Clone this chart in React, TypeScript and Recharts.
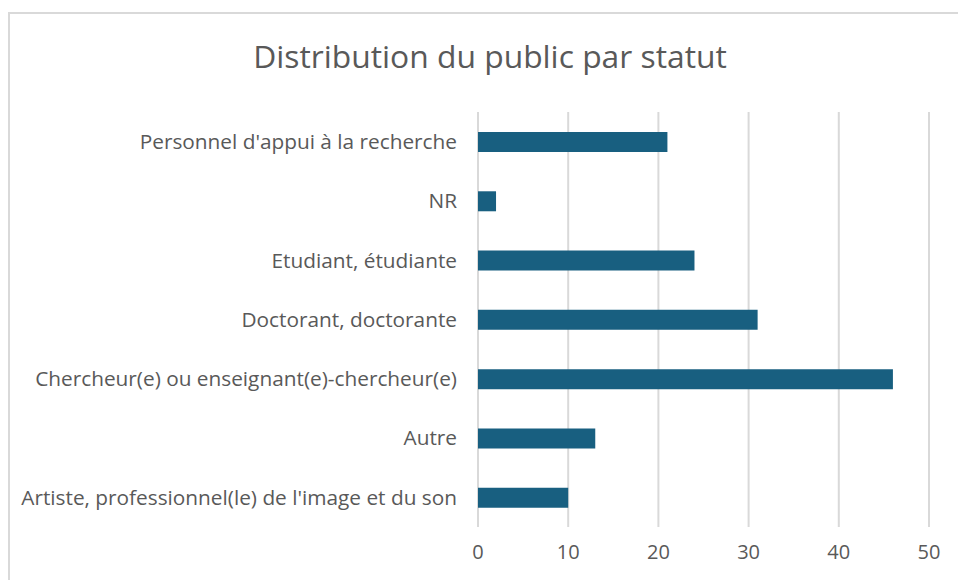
import { BarChart, Bar, XAxis, YAxis, CartesianGrid } from "recharts"

const statuts = [
  "Personnel d'appui à la recherche",
  "NR",
  "Etudiant, étudiante",
  "Doctorant, doctorante",
  "Chercheur(e) ou enseignant(e)-chercheur(e)",
  "Autre",
  "Artiste, professionnel(le) de l'image et du son",
]

const effectifs = [21, 2, 24, 31, 46, 13, 10]

const xTicks = [0, 10, 20, 30, 40, 50]

const data = statuts.map((statut, i) => ({ statut, effectif: effectifs[i] }))

const font = "'Open Sans', Roboto, sans-serif"

export default function App() {
  return (
    <div style={{ position: "absolute", left: 0, top: 0, width: 958, height: 580, overflow: "hidden", background: "#fff", fontFamily: font }}>
      {/* chart frame */}
      <div
        style={{
          position: "absolute",
          left: 8,
          top: 12,
          width: 980,
          height: 600,
          border: "2px solid #d9d9d9",
        }}
      />
      <div
        style={{
          position: "absolute",
          left: 0,
          top: 34,
          width: 980,
          textAlign: "center",
          fontSize: 31.8,
          color: "#595959",
          lineHeight: "44px",
        }}
      >
        Distribution du public par statut
      </div>
      <div style={{ position: "absolute", left: 0, top: 0 }}>
        <BarChart
          width={958}
          height={580}
          data={data}
          layout="vertical"
          margin={{ top: 112, right: 29, bottom: 0, left: 0 }}
          barSize={20}
        >
          <CartesianGrid horizontal={false} stroke="#d9d9d9" strokeWidth={2} />
          <XAxis
            type="number"
            domain={[0, 50]}
            ticks={xTicks}
            height={53}
            axisLine={false}
            tickLine={false}
            tickSize={0}
            tickMargin={18}
            tick={{ fill: "#595959", fontSize: 20, fontFamily: font }}
          />
          <YAxis
            type="category"
            dataKey="statut"
            width={478}
            axisLine={false}
            tickLine={false}
            tickSize={0}
            tickMargin={21}
            interval={0}
            tick={{ fill: "#595959", fontSize: 20.8, fontFamily: font }}
          />
          <Bar dataKey="effectif" fill="#185f80" isAnimationActive={false} />
        </BarChart>
      </div>
    </div>
  )
}
